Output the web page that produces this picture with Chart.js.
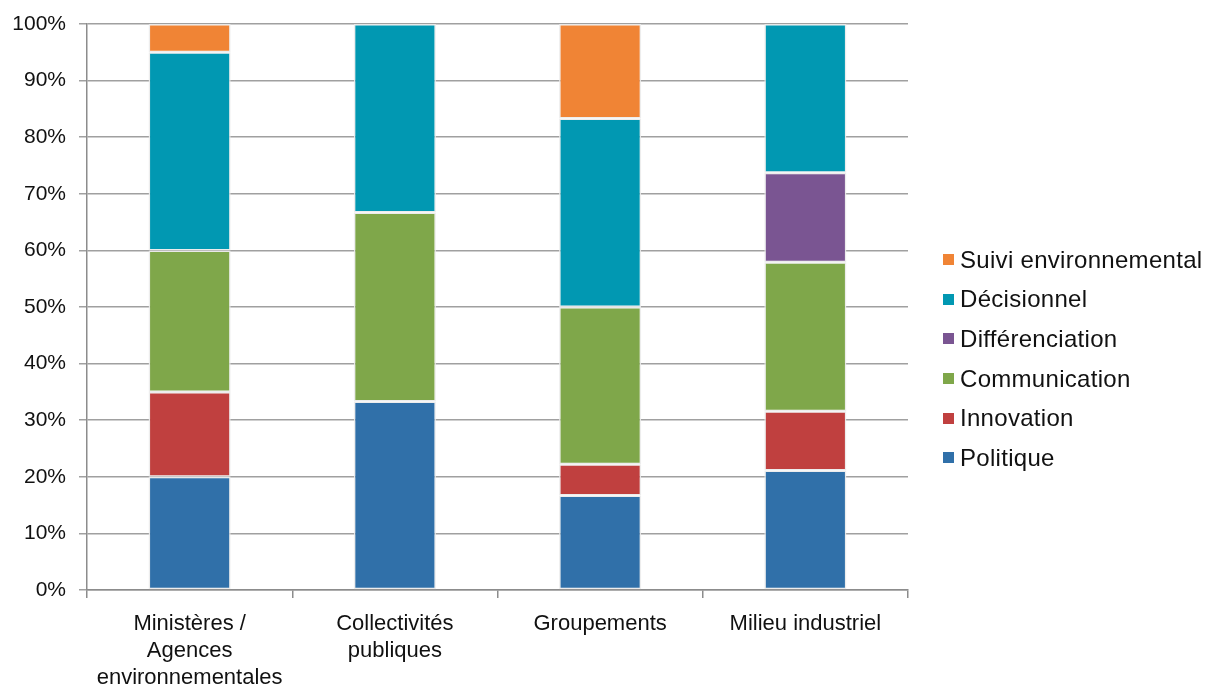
<!DOCTYPE html>
<html>
<head>
<meta charset="utf-8">
<script src="https://cdn.jsdelivr.net/npm/chart.js@4.4.1/dist/chart.umd.min.js"></script>
<style>
  body { margin: 0; background: #fff; }
  #wrap { position: relative; width: 1206px; height: 684px; }
  #legend {
    position: absolute; left: 943px; top: 240px;
    font-family: "Liberation Sans", Arial, sans-serif; font-size: 24px; letter-spacing: 0.3px; color: #111;
  }
  #legend div { height: 39.6px; display: flex; align-items: center; }
  #legend span.box { width: 11px; height: 11px; margin-right: 6px; display: inline-block; }
</style>
</head>
<body>
<div id="wrap">
  <canvas id="bars" width="1206" height="684"></canvas>
  <div id="legend"></div>
</div>
<script>
const categories = [
  ['Ministères /', 'Agences', 'environnementales'],
  ['Collectivités', 'publiques'],
  'Groupements',
  'Milieu industriel'
];
const seriesNames = ['Politique', 'Innovation', 'Communication', 'Différenciation', 'Décisionnel', 'Suivi environnemental'];
const seriesColors = ['#3070a9', '#c0403f', '#7fa74a', '#7a5592', '#0198b2', '#f08435'];

// share of each category, in %
const politique       = [20, 33.3, 16.7, 21.1];
const innovation      = [15, 0, 5.5, 10.5];
const communication   = [25, 33.4, 27.8, 26.3];
const differenciation = [0, 0, 0, 15.8];
const decisionnel     = [35, 33.3, 33.3, 26.3];
const suivi           = [5, 0, 16.7, 0];

const yTicks = [0, 10, 20, 30, 40, 50, 60, 70, 80, 90, 100];

const seriesValues = [politique, innovation, communication, differenciation, decisionnel, suivi];
const font = 'Liberation Sans, Arial, sans-serif';

const datasets = seriesNames.map((name, i) => ({
  label: name,
  data: seriesValues[i],
  backgroundColor: seriesColors[i],
  borderColor: 'rgba(235,235,235,0.9)',
  borderWidth: 1.5,
  borderSkipped: false,
  barPercentage: 0.4,
  categoryPercentage: 1
}));

new Chart(document.getElementById('bars'), {
  type: 'bar',
  data: { labels: categories, datasets: datasets },
  options: {
    responsive: false,
    animation: false,
    layout: { padding: { left: 12, top: 24, right: 298, bottom: 0 } },
    plugins: { legend: { display: false }, tooltip: { enabled: false } },
    scales: {
      x: {
        stacked: true,
        afterFit: s => { s.height = 94; },
        grid: { offset: true, drawOnChartArea: false, tickLength: 8, color: '#8c8c8c', lineWidth: 1.5 },
        border: { color: '#8c8c8c', width: 1.5 },
        ticks: { color: '#111', padding: 13, font: { family: font, size: 22, lineHeight: 1.22 }, maxRotation: 0 }
      },
      y: {
        stacked: true,
        min: 0,
        max: 100,
        afterFit: s => { s.width = 75; s.paddingTop = 0; },
        afterBuildTicks: s => { s.ticks = yTicks.map(v => ({ value: v })); },
        grid: { color: '#a0a0a0', lineWidth: 1.5, tickLength: 8 },
        border: { color: '#8c8c8c', width: 1.5 },
        ticks: { color: '#111', padding: 13, font: { family: font, size: 21 }, callback: v => v + '%' }
      }
    }
  }
});

// legend listed top-down in reverse stacking order
const legend = document.getElementById('legend');
for (let i = seriesNames.length - 1; i >= 0; i--) {
  const row = document.createElement('div');
  row.innerHTML = '<span class="box" style="background:' + seriesColors[i] + '"></span>' + seriesNames[i];
  legend.appendChild(row);
}
</script>
</body>
</html>
